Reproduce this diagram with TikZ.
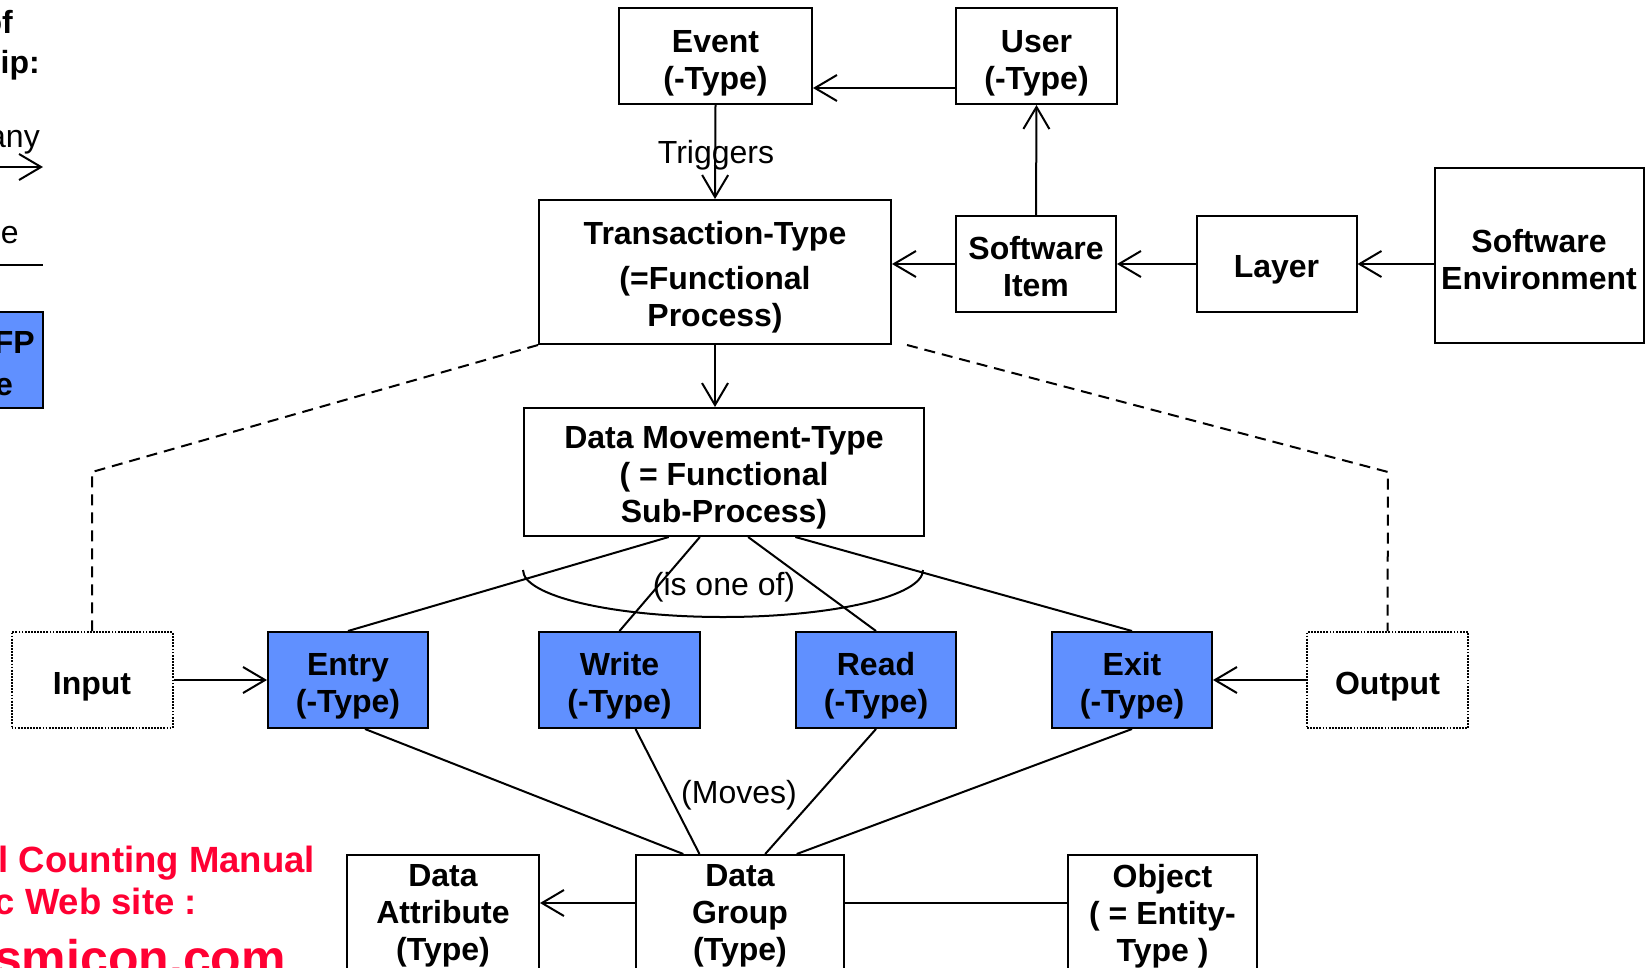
\documentclass[tikz,border=0pt]{standalone}
\usepackage{fontspec}
\setmainfont{Liberation Sans}
\usetikzlibrary{arrows.meta,calc}
\definecolor{boxblue}{RGB}{96,144,255}
\definecolor{linkred}{RGB}{255,0,51}
\newcommand{\tstrut}[1]{\rule{0pt}{#1}}
\begin{document}
\begin{tikzpicture}[x=1pt,y=-1pt,
  box/.style={draw, line width=2pt, rectangle, inner sep=0pt, align=center,
    font=\bfseries\fontsize{32}{37}\selectfont},
  bluebox/.style={box, fill=boxblue},
  dotbox/.style={box, dash pattern=on 1.8pt off 1.3pt},
  arr/.style={line width=2pt, -{Straight Barb[length=22pt,width=26pt,line width=2pt]}},
  con/.style={line width=2pt},
  dsh/.style={line width=2pt, dash pattern=on 11pt off 7pt},
  lbl/.style={font=\fontsize{32}{37}\selectfont, inner sep=0pt},
  blbl/.style={font=\bfseries\fontsize{32}{37}\selectfont, inner sep=0pt},
  redlbl/.style={font=\bfseries\fontsize{36.5}{40}\selectfont, text=linkred, inner sep=0pt},
]
\useasboundingbox (0,0) rectangle (1652,967);
\fill[white] (0,0) rectangle (1652,967);
\clip (0,0) rectangle (1652,967);

% top row
\node[box, minimum width=193pt, minimum height=96pt] (event) at (715.5,56) {\tstrut{36pt}Event\\(-Type)};
\node[box, minimum width=161pt, minimum height=96pt] (user) at (1036.5,56) {\tstrut{36pt}User\\(-Type)};
\node[box, minimum width=352pt, minimum height=144pt] (trans) at (715,272) {\tstrut{33pt}Transaction-Type\\[8pt](=Functional\\Process)};
\node[box, minimum width=160pt, minimum height=96pt] (si) at (1036,264) {\tstrut{28pt}Software\\Item};
\node[box, minimum width=160pt, minimum height=96pt] (layer) at (1276.5,264) {\tstrut{33pt}Layer};
\node[box, minimum width=209pt, minimum height=175pt] (se) at (1539,255.5) {\tstrut{31.5pt}Software\\Environment};
\node[box, minimum width=400pt, minimum height=128pt] (dm) at (724,472) {\tstrut{33pt}Data Movement-Type\\( = Functional\\Sub-Process)};

% middle row
\node[dotbox, minimum width=161pt, minimum height=96pt] (input) at (92,680) {\tstrut{36pt}Input};
\node[bluebox, minimum width=160pt, minimum height=96pt] (entry) at (348,680) {\tstrut{34pt}Entry\\(-Type)};
\node[bluebox, minimum width=161pt, minimum height=96pt] (write) at (619.5,680) {\tstrut{34pt}Write\\(-Type)};
\node[bluebox, minimum width=160pt, minimum height=96pt] (read) at (876,680) {\tstrut{34pt}Read\\(-Type)};
\node[bluebox, minimum width=160pt, minimum height=96pt] (exit) at (1132,680) {\tstrut{34pt}Exit\\(-Type)};
\node[dotbox, minimum width=161pt, minimum height=96pt] (output) at (1387.5,680) {\tstrut{36pt}Output};

% bottom row
\node[box, minimum width=192pt, minimum height=122pt] (da) at (443,916) {Data\\Attribute\\(Type)};
\node[box, minimum width=208pt, minimum height=122pt] (dg) at (740,916) {Data\\Group\\(Type)};
\node[box, minimum width=189pt, minimum height=122pt] (obj) at (1162.5,916) {Object\\( = Entity-\\Type )};

% connectors top
\draw[arr] ([yshift=-32pt]user.west) -- ([yshift=-32pt]user.west -| event.east);
\draw[arr] (event.south) -- (trans.north);
\node[lbl, anchor=base] (trig) at (716,163) {Triggers};
\draw[arr] (si.north) -- (user.south);
\draw[arr] (si.west) -- (si.west -| trans.east);
\draw[arr] (layer.west) -- (si.east);
\draw[arr] (se.west |- layer.west) -- (layer.east);
\draw[arr] (trans.south) -- (trans.south |- dm.north);

% dashed links
\coordinate (lcorner) at (92,472);
\coordinate (rcorner) at (1388,472);
\coordinate (rstart) at ($(trans.south east)+(15,0)$);
\draw[dsh] (trans.south west) -- (lcorner) -- (input.north);
\draw[dsh] (rstart) -- (rcorner) -- (output.north);

% DM to types
\draw[con] ($(dm.south west)!0.3625!(dm.south east)$) -- (entry.north);
\draw[con] ($(dm.south west)!0.44!(dm.south east)$) -- (write.north);
\draw[con] ($(dm.south west)!0.56!(dm.south east)$) -- (read.north);
\draw[con] ($(dm.south west)!0.6775!(dm.south east)$) -- (exit.north);
\coordinate (ellL) at (523,570);
\draw[con] (ellL) arc[start angle=180, end angle=360, x radius=200pt, y radius=47pt];
\node[lbl, anchor=base] (isone) at (724,595) {(is one of)};

% input / output
\draw[arr] (input.east) -- (entry.west);
\draw[arr] (output.west) -- (exit.east);

% types to data group
\draw[con] ([xshift=17pt]entry.south) -- ($(dg.north west)!0.23!(dg.north east)$);
\draw[con] ([xshift=16pt]write.south) -- ($(dg.north west)!0.307!(dg.north east)$);
\draw[con] (read.south) -- ($(dg.north west)!0.62!(dg.north east)$);
\draw[con] (exit.south) -- ($(dg.north west)!0.77!(dg.north east)$);
\node[lbl, anchor=base] (moves) at (739,803) {(Moves)};

\draw[arr] ([yshift=13pt]dg.west) -- ([yshift=13pt]dg.west -| da.east);
\draw[con] ([yshift=13pt]dg.east) -- ([yshift=13pt]dg.east -| obj.west);

% legend (cropped)
\node[blbl, anchor=base east] (lg1) at (13,33) {of};
\node[blbl, anchor=base east] (lg2) at (40,73) {hip:};
\node[lbl, anchor=base east] (lg3) at (40,147) {any};
\coordinate (la1) at (-10,167);
\coordinate (la2) at (43,167);
\draw[arr] (la1) -- (la2);
\node[lbl, anchor=base east] (lg4) at (19,243) {ne};
\coordinate (lb1) at (-10,265);
\coordinate (lb2) at (43,265);
\draw[con] (lb1) -- (lb2);
\node[bluebox, minimum width=200pt, minimum height=96pt] (lgbox) at (-57,360) {};
\node[blbl, anchor=base east] (lg5) at (35,353) {FFP};
\node[blbl, anchor=base east] (lg6) at (13,395) {pe};

% red text (cropped)
\node[redlbl, anchor=base east] (r1) at (315,872) {l Counting Manual};
\node[redlbl, anchor=base east] (r2) at (197,914) {c Web site :};
\node[redlbl, font=\bfseries\fontsize{50}{55}\selectfont, anchor=base east] (r3) at (286,975) {www.cosmicon.com};
\end{tikzpicture}
\end{document}
